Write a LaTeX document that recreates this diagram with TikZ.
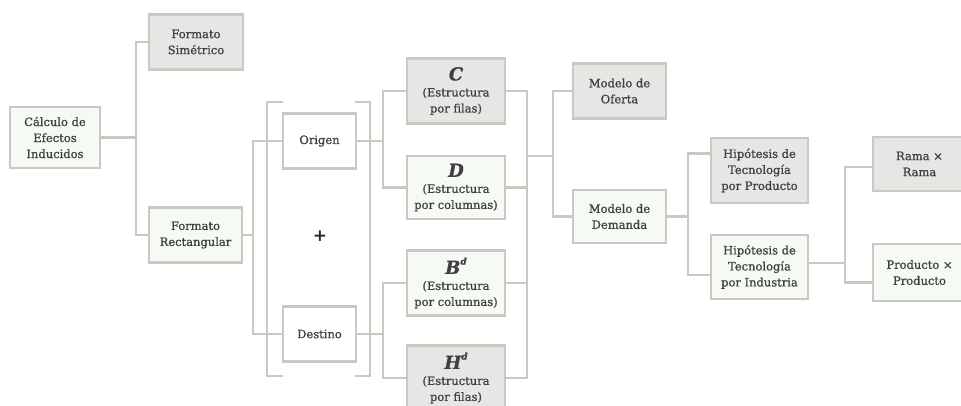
\documentclass[tikz,border=0pt]{standalone}
\usepackage{fontspec}
\setmainfont{DejaVu Serif}
\newfontfamily\boxfont{DejaVu Serif}[FakeBold=0.9]
\definecolor{lc}{HTML}{CBC7C1}
\definecolor{gf}{HTML}{E8E6E4}
\definecolor{lf}{HTML}{F6FAF4}
\definecolor{tc}{HTML}{404040}
\newcommand\bigletter[1]{{\fontsize{18}{18}\selectfont\bfseries\itshape #1}}
\newcommand\supd{\raisebox{1.0ex}{\fontsize{9}{9}\selectfont\itshape d}}
\tikzset{
  box/.style={draw=lc, line width=2.8pt, align=center, inner sep=2pt,
    font=\boxfont\fontsize{11.5}{16}\selectfont, text=tc},
  gbox/.style={box, fill=gf},
  lbox/.style={box, fill=lf},
  wbox/.style={box, fill=white},
  conn/.style={draw=lc, line width=2.8pt},
}
\begin{document}
\begin{tikzpicture}[x=1pt,y=-1pt]
\useasboundingbox (0,0) rectangle (961,406);
\clip (0,0) rectangle (961,406);
% nodes
\node[lbox, minimum width=90pt, minimum height=61pt] (calc) at (55,137.5) {Cálculo de\\Efectos\\Inducidos};
\node[gbox, minimum width=94pt, minimum height=55pt] (sim) at (196,42) {Formato\\Simétrico};
\node[lbox, minimum width=93pt, minimum height=55pt] (rect) at (195.5,235) {Formato\\Rectangular};
\node[wbox, minimum width=73pt, minimum height=55pt] (ori) at (319.5,141) {Origen};
\node[wbox, minimum width=73pt, minimum height=55pt] (des) at (319.5,334) {Destino};
\node[text=black!85, font=\fontsize{17}{17}\selectfont\bfseries] (plus) at (320,236) {+};
\node[gbox, minimum width=98pt, minimum height=65pt] (C) at (456,91) {\bigletter{C}\\(Estructura\\por filas)};
\node[lbox, minimum width=98pt, minimum height=63pt] (D) at (456,187.5) {\bigletter{D}\\(Estructura\\por columnas)};
\node[lbox, minimum width=98pt, minimum height=65pt] (B) at (456,283) {\bigletter{B\supd}\\(Estructura\\por columnas)};
\node[gbox, minimum width=98pt, minimum height=65pt] (H) at (456,378) {\bigletter{H\supd}\\(Estructura\\por filas)};
\node[gbox, minimum width=93pt, minimum height=55pt] (of) at (619.5,91) {Modelo de\\Oferta};
\node[lbox, minimum width=93pt, minimum height=53pt] (dem) at (619.5,216.5) {Modelo de\\Demanda};
\node[gbox, minimum width=97pt, minimum height=65pt] (hp) at (759.5,170.5) {Hipótesis de\\Tecnología\\por Producto};
\node[lbox, minimum width=97pt, minimum height=64pt] (hi) at (759.5,267) {Hipótesis de\\Tecnología\\por Industria};
\node[gbox, minimum width=93pt, minimum height=54pt] (rr) at (919.5,164) {Rama ×\\Rama};
\node[lbox, minimum width=93pt, minimum height=57pt] (pp) at (919.5,272.5) {Producto ×\\Producto};
% brackets
\draw[conn] (283,102) -| (267,376) -- (283,376);
\draw[conn] (355,102) -| (370,376) -- (355,376);
% connectors
\coordinate (k1) at (136,137.5);
\draw[conn] (calc.east) -- (k1);
\draw[conn] (sim.west) -| (k1) |- (rect.west);
\coordinate (k2) at (253,235);
\draw[conn] (rect.east) -- (k2);
\draw[conn] (ori.west) -| (k2) |- (des.west);
\coordinate (k3) at (383,141);
\draw[conn] (ori.east) -- (k3);
\draw[conn] (C.west) -| (k3) |- (D.west);
\coordinate (k4) at (383,334);
\draw[conn] (des.east) -- (k4);
\draw[conn] (B.west) -| (k4) |- (H.west);
\coordinate (k5) at (527,156);
\draw[conn] (C.east) -| (k5);
\draw[conn] (D.east) -| (k5);
\draw[conn] (B.east) -| (k5);
\draw[conn] (H.east) -| (k5);
\coordinate (k6) at (553,156);
\draw[conn] (k5) -- (k6);
\draw[conn] (of.west) -| (k6) |- (dem.west);
\coordinate (k7) at (688,216.5);
\draw[conn] (dem.east) -- (k7);
\draw[conn] ([yshift=17pt]hp.west) -| (k7) |- ([yshift=-8pt]hi.west);
\coordinate (k8) at (845,263);
\draw[conn] ([yshift=4pt]hi.east) -- (k8);
\draw[conn] ([yshift=-3pt]rr.west) -| (k8) |- ([yshift=-10pt]pp.west);
\end{tikzpicture}
\end{document}
